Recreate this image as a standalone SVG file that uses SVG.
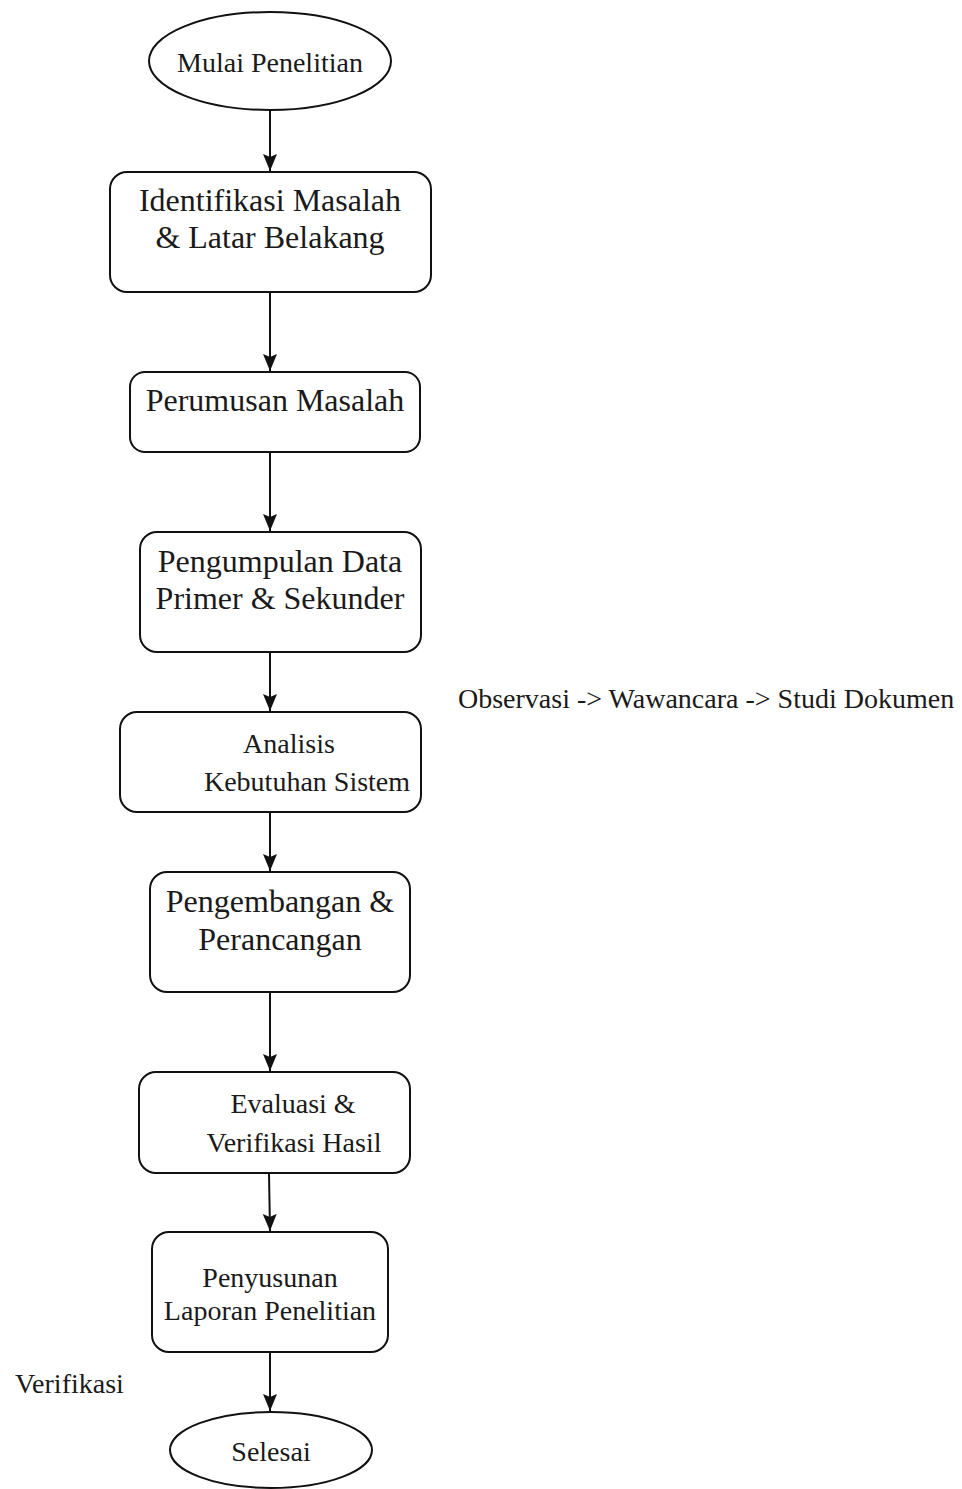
<svg xmlns="http://www.w3.org/2000/svg" width="962" height="1489" viewBox="0 0 962 1489">
<style>
.shape{fill:#fff;stroke:#111;stroke-width:2}
.t{font-family:"Liberation Serif","Times New Roman",serif;fill:#1a1a1a;text-anchor:middle}
.s28{font-size:28px}
.s32{font-size:32px}
.lbl{font-family:"Liberation Serif","Times New Roman",serif;fill:#1a1a1a;font-size:28px}
.c{stroke:#111;stroke-width:2;fill:none}
</style>
<defs>
<marker id="arr" markerWidth="18" markerHeight="16" refX="17" refY="8" orient="auto" markerUnits="userSpaceOnUse">
<path d="M0,1 L17,8 L0,15 L3,8 Z" fill="#111"/>
</marker>
</defs>
<rect width="962" height="1489" fill="#fff"/>
<g id="connectors">
<line class="c" x1="270" y1="110" x2="270" y2="171" marker-end="url(#arr)"/>
<line class="c" x1="270" y1="292" x2="270" y2="371" marker-end="url(#arr)"/>
<line class="c" x1="270" y1="452" x2="270" y2="531" marker-end="url(#arr)"/>
<line class="c" x1="270" y1="652" x2="270" y2="711" marker-end="url(#arr)"/>
<line class="c" x1="270" y1="812" x2="270" y2="871" marker-end="url(#arr)"/>
<line class="c" x1="270" y1="992" x2="270" y2="1071" marker-end="url(#arr)"/>
<line class="c" x1="269" y1="1173" x2="270" y2="1231" marker-end="url(#arr)"/>
<line class="c" x1="270" y1="1352" x2="270" y2="1411" marker-end="url(#arr)"/>
</g>
<g id="start">
<ellipse class="shape" cx="270" cy="61" rx="121" ry="49"/>
<text class="t s28" x="270" y="72">Mulai Penelitian</text>
</g>
<g id="identifikasi">
<rect class="shape" x="110" y="172" width="321" height="120" rx="17"/>
<text class="t s32" x="270" y="211">Identifikasi Masalah</text>
<text class="t s32" x="270" y="248">&amp; Latar Belakang</text>
</g>
<g id="perumusan">
<rect class="shape" x="130" y="372" width="290" height="80" rx="15"/>
<text class="t s32" x="275" y="411">Perumusan Masalah</text>
</g>
<g id="pengumpulan">
<rect class="shape" x="140" y="532" width="281" height="120" rx="17"/>
<text class="t s32" x="280" y="572">Pengumpulan Data</text>
<text class="t s32" x="280" y="609">Primer &amp; Sekunder</text>
</g>
<g id="analisis">
<rect class="shape" x="120" y="712" width="301" height="100" rx="17"/>
<text class="t s28" x="289" y="753">Analisis</text>
<text class="t s28" x="307" y="791">Kebutuhan Sistem</text>
</g>
<g id="pengembangan">
<rect class="shape" x="150" y="872" width="260" height="120" rx="17"/>
<text class="t s32" x="280" y="912">Pengembangan &amp;</text>
<text class="t s32" x="280" y="950">Perancangan</text>
</g>
<g id="evaluasi">
<rect class="shape" x="139" y="1072" width="271" height="101" rx="17"/>
<text class="t s28" x="293" y="1113">Evaluasi &amp;</text>
<text class="t s28" x="294" y="1152">Verifikasi Hasil</text>
</g>
<g id="penyusunan">
<rect class="shape" x="152" y="1232" width="236" height="120" rx="17"/>
<text class="t s28" x="270" y="1287">Penyusunan</text>
<text class="t s28" x="270" y="1320">Laporan Penelitian</text>
</g>
<g id="end">
<ellipse class="shape" cx="271" cy="1450" rx="101" ry="38"/>
<text class="t s28" x="271" y="1461">Selesai</text>
</g>
<g id="labels">
<text class="lbl" x="458" y="708">Observasi -&gt; Wawancara -&gt; Studi Dokumen</text>
<text class="lbl" x="15" y="1393">Verifikasi</text>
</g>
</svg>
